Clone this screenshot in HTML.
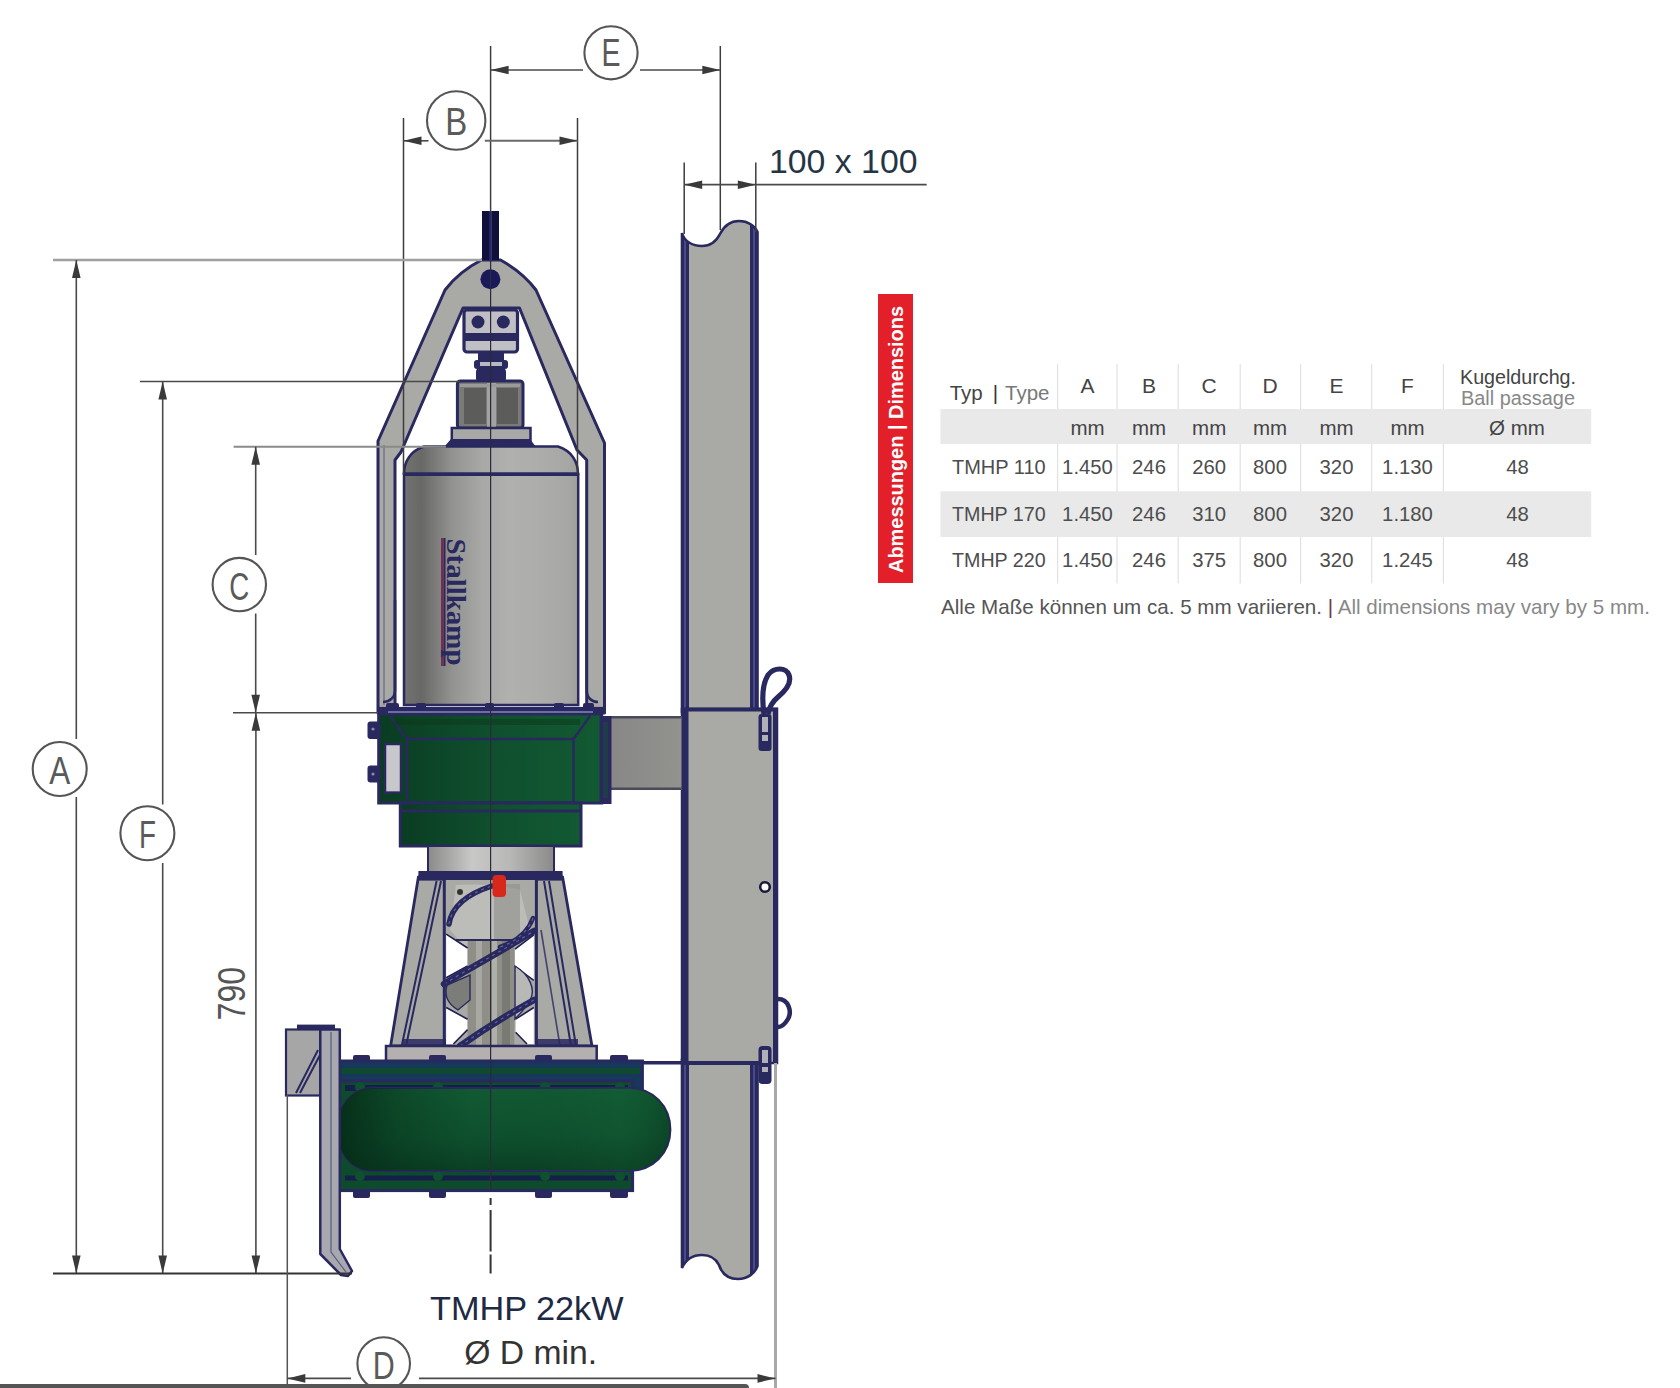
<!DOCTYPE html>
<html><head><meta charset="utf-8"><title>TMHP 22kW Dimensions</title>
<style>
html,body{margin:0;padding:0;background:#fff;width:1680px;height:1388px;overflow:hidden}
svg{display:block;font-family:"Liberation Sans",sans-serif}
</style></head><body>
<svg width="1680" height="1388" viewBox="0 0 1680 1388">
<rect width="1680" height="1388" fill="#fff"/>
<defs>
<linearGradient id="gMotor" x1="0" x2="1" y1="0" y2="0">
 <stop offset="0" stop-color="#727270"/>
 <stop offset="0.1" stop-color="#686866"/>
 <stop offset="0.28" stop-color="#939391"/>
 <stop offset="0.45" stop-color="#a8a8a6"/>
 <stop offset="0.6" stop-color="#b0b0ae"/>
 <stop offset="0.8" stop-color="#acacaa"/>
 <stop offset="0.95" stop-color="#a6a6a4"/>
 <stop offset="1" stop-color="#9e9e9c"/>
</linearGradient>
<linearGradient id="gShaft" x1="0" x2="1" y1="0" y2="0">
 <stop offset="0" stop-color="#8a8a88"/>
 <stop offset="0.35" stop-color="#c8c8c6"/>
 <stop offset="0.65" stop-color="#b8b8b6"/>
 <stop offset="1" stop-color="#8a8a88"/>
</linearGradient>
<linearGradient id="gGreen" x1="0" x2="1" y1="0" y2="0">
 <stop offset="0" stop-color="#0a3c22"/>
 <stop offset="0.5" stop-color="#0f4f2e"/>
 <stop offset="1" stop-color="#125a33"/>
</linearGradient>
<linearGradient id="gTube" x1="0" x2="0" y1="0" y2="1">
 <stop offset="0" stop-color="#115a33"/>
 <stop offset="0.6" stop-color="#0e502e"/>
 <stop offset="1" stop-color="#0a3f24"/>
</linearGradient>
<linearGradient id="gTubeH" x1="0" x2="1" y1="0" y2="0">
 <stop offset="0" stop-color="#052a16" stop-opacity="0.9"/>
 <stop offset="0.18" stop-color="#052a16" stop-opacity="0.35"/>
 <stop offset="0.4" stop-color="#052a16" stop-opacity="0"/>
 <stop offset="0.85" stop-color="#1a6a3a" stop-opacity="0.15"/>
 <stop offset="1" stop-color="#052a16" stop-opacity="0.3"/>
</linearGradient>
<linearGradient id="gArm" x1="0" x2="1" y1="0" y2="0">
 <stop offset="0" stop-color="#868684"/>
 <stop offset="1" stop-color="#92928f"/>
</linearGradient>
</defs>
<clipPath id="cUp"><path d="M682,233 C684,241 692,246 702,246 C712,246 717,240 720,234 C724,226 730,221 739,221 C748,221 755,226 757.5,232 L757.5,712 L682,712 Z"/></clipPath><clipPath id="cLo"><path d="M682,1060 L757.5,1060 L757.5,1266 C755,1273 748,1279 738,1279 C729,1279 722,1274 719,1265 C716,1259 711,1255 702,1255 C693,1255 686,1259 682,1268 Z"/></clipPath>
<path d="M682,233 C684,241 692,246 702,246 C712,246 717,240 720,234 C724,226 730,221 739,221 C748,221 755,226 757.5,232 L757.5,712 L682,712 Z" fill="#a9a9a6"/>
<g clip-path="url(#cUp)"><rect x="680" y="200" width="9" height="1100" fill="#29285f"/><rect x="750" y="200" width="9" height="1100" fill="#29285f"/><rect x="684" y="200" width="2" height="1100" fill="#4a4a88"/><rect x="753" y="200" width="2" height="1100" fill="#4a4a88"/></g>
<path d="M682,233 C684,241 692,246 702,246 C712,246 717,240 720,234 C724,226 730,221 739,221 C748,221 755,226 757.5,232 L757.5,712 L682,712 Z" fill="none" stroke="#29285f" stroke-width="2.6"/>
<path d="M682,1060 L757.5,1060 L757.5,1266 C755,1273 748,1279 738,1279 C729,1279 722,1274 719,1265 C716,1259 711,1255 702,1255 C693,1255 686,1259 682,1268 Z" fill="#a9a9a6"/>
<g clip-path="url(#cLo)"><rect x="680" y="200" width="9" height="1100" fill="#29285f"/><rect x="750" y="200" width="9" height="1100" fill="#29285f"/><rect x="684" y="200" width="2" height="1100" fill="#4a4a88"/><rect x="753" y="200" width="2" height="1100" fill="#4a4a88"/></g>
<path d="M682,1060 L757.5,1060 L757.5,1266 C755,1273 748,1279 738,1279 C729,1279 722,1274 719,1265 C716,1259 711,1255 702,1255 C693,1255 686,1259 682,1268 Z" fill="none" stroke="#29285f" stroke-width="2.6"/>
<rect x="682" y="709" width="95" height="354" fill="#a9a9a6" stroke="#29285f" stroke-width="2.5"/>
<rect x="682" y="709" width="6.5" height="354" fill="#29285f"/>
<rect x="773" y="709" width="5" height="354" fill="#29285f"/>
<rect x="681" y="707.5" width="97" height="4" fill="#29285f"/>
<rect x="681" y="1061" width="80" height="4" fill="#29285f"/>
<rect x="601.5" y="716" width="80" height="74" fill="url(#gArm)"/>
<rect x="601.5" y="716" width="80" height="2.5" fill="#4a4a5a"/>
<rect x="601.5" y="787.5" width="80" height="2.5" fill="#4a4a5a"/>
<rect x="758.5" y="714" width="13" height="37" rx="3" fill="#29285f"/>
<rect x="762" y="717" width="6" height="15" fill="#b0b0b8"/>
<rect x="762" y="735" width="6" height="6" fill="#b0b0b8"/>
<path d="M764,714 C762,700 762,685 768,675 C774,667 786,667 789,675 C792,683 784,692 778,697 C772,702 769,708 768,714" fill="none" stroke="#29285f" stroke-width="5.2"/>
<circle cx="765" cy="887" r="4.8" fill="#fff" stroke="#1a1a3a" stroke-width="2.6"/>
<path d="M778,999 C789,999 792,1012 788,1019 C785,1024 781,1027 778,1027" fill="none" stroke="#29285f" stroke-width="4.5"/>
<rect x="758.5" y="1046" width="13" height="38" rx="4" fill="#29285f"/>
<rect x="762" y="1050" width="6" height="13" fill="#b0b0b8"/>
<rect x="762" y="1067" width="6" height="5" fill="#b0b0b8"/>
<rect x="640" y="1061" width="43" height="3.5" fill="#29285f"/>
<path d="M481.5,260 L500.5,260 C515,268 527,278 536,290 L604.5,443 L604.5,713 L586.7,713 L586.7,460 L577,450 L519.5,308 L463,308 L401,452 L395,460 L395,713 L378,713 L378,441 L445,290 C454,278 466,268 481.5,260 Z" fill="#a9a9a6" stroke="#29285f" stroke-width="3" stroke-linejoin="round"/>
<path d="M384,445 L384,705" stroke="#29285f" stroke-width="1.2" fill="none" opacity="0.5"/>
<path d="M395,600 L395,690 C395,698 389,702 383,702" fill="none" stroke="#29285f" stroke-width="2.5"/>
<path d="M586.7,600 L586.7,690 C586.7,698 592,702 598,702" fill="none" stroke="#29285f" stroke-width="2.5"/>
<rect x="482" y="211" width="17" height="49" fill="#10103a"/>
<rect x="489.5" y="211" width="2.5" height="49" fill="#3535a0"/>
<circle cx="490.4" cy="279.3" r="10" fill="#1a1a5a"/>
<rect x="464" y="310" width="53.5" height="42" rx="3" fill="#c0c0c4" stroke="#29285f" stroke-width="3.2"/>
<rect x="464" y="333" width="53.5" height="8" fill="#29285f"/>
<circle cx="478" cy="322" r="6.5" fill="#29285f"/>
<circle cx="503.3" cy="322" r="6.5" fill="#29285f"/>
<rect x="478" y="352" width="26" height="10" fill="#29285f"/>
<rect x="474" y="360" width="34" height="9" rx="3" fill="#29285f"/>
<rect x="480" y="362" width="22" height="4" fill="#b8b8c0"/>
<rect x="476" y="368" width="30" height="14" rx="4" fill="#29285f"/>
<rect x="457.4" y="381" width="65.6" height="47" rx="3" fill="#7a7a78" stroke="#29285f" stroke-width="3"/>
<rect x="464" y="388" width="22" height="36" fill="#5c5c5a"/>
<rect x="497" y="388" width="21" height="36" fill="#5c5c5a"/>
<rect x="487" y="383" width="9" height="44" fill="#a2a2a0"/>
<rect x="460" y="384" width="60" height="3" fill="#9a9a98"/>
<rect x="451.8" y="428" width="78.7" height="13" fill="#a8a8a6" stroke="#29285f" stroke-width="2.5"/>
<polygon points="444,447 536,447 530,439 451,439" fill="#29285f"/>
<path d="M404,474 C404,462 410,451 424,446.5 L558,446.5 C572,451 578,462 578,474 Z" fill="url(#gMotor)" stroke="#29285f" stroke-width="2.5"/>
<rect x="404" y="474" width="174.2" height="231" fill="url(#gMotor)" stroke="#29285f" stroke-width="2.5"/>
<rect x="403" y="472.5" width="176" height="3.5" fill="#29285f"/>
<rect x="441" y="538" width="2.5" height="128" fill="#7a2a4a"/>
<rect x="443.5" y="538" width="2" height="128" fill="#29285f"/>
<text transform="translate(447,538.5) rotate(90)" font-family="Liberation Serif" font-weight="bold" font-size="28" fill="#29285f" textLength="127" lengthAdjust="spacingAndGlyphs">Stallkamp</text>
<rect x="386" y="703" width="13" height="8" rx="2" fill="#29285f"/>
<rect x="416" y="703" width="10" height="8" rx="2" fill="#29285f"/>
<rect x="485" y="703" width="9" height="8" rx="2" fill="#29285f"/>
<rect x="554" y="703" width="10" height="8" rx="2" fill="#29285f"/>
<rect x="583" y="703" width="11" height="8" rx="2" fill="#29285f"/>
<rect x="378.7" y="708.4" width="223" height="94.6" fill="url(#gGreen)" stroke="#29285f" stroke-width="3"/>
<rect x="378.7" y="708.4" width="223" height="7" fill="#29285f"/>
<rect x="388" y="711" width="205" height="2" fill="#8a8ac0" opacity="0.7"/>
<path d="M390,716 L407,739 L573.5,739 L590,716" fill="none" stroke="#29285f" stroke-width="2.5"/>
<path d="M407,739 L407,803 M573.5,739 L573.5,803" fill="none" stroke="#29285f" stroke-width="2.5"/>
<path d="M395,722 L580,722" stroke="#0d3a1a" stroke-width="6" opacity="0.5"/>
<rect x="367.5" y="721.5" width="13" height="17.5" rx="3" fill="#29285f"/>
<rect x="367.5" y="765.5" width="13" height="17" rx="3" fill="#29285f"/>
<circle cx="373" cy="729" r="1.6" fill="#8888b0"/>
<circle cx="373" cy="774" r="1.6" fill="#8888b0"/>
<rect x="385" y="744" width="16" height="48.6" fill="#c8c8cc" stroke="#29285f" stroke-width="2.5"/>
<rect x="599.5" y="716" width="12" height="88" fill="#29285f"/>
<rect x="603" y="722" width="5" height="76" fill="#1a4a3a" opacity="0.6"/>
<rect x="400.3" y="803" width="180.7" height="43" fill="url(#gGreen)" stroke="#29285f" stroke-width="3"/>
<rect x="400.3" y="809.5" width="180.7" height="3" fill="#29285f"/>
<rect x="428" y="846" width="126" height="26" fill="url(#gShaft)" stroke="#29285f" stroke-width="2"/>
<polygon points="418.4,877 562.6,877 592,1046 390.6,1046" fill="#a9a9a6" stroke="#29285f" stroke-width="2.8" stroke-linejoin="round"/>
<rect x="418.4" y="871" width="144.2" height="9.6" fill="#29285f"/>
<rect x="444.5" y="880" width="92" height="166" fill="#a9a9a5"/>
<path d="M456,885 C470,884 500,884 520,890 L530,930 L514,949 L467,949 L450,930 Z" fill="#bcbcb8"/>
<rect x="494" y="884" width="26" height="60" fill="#8e8e88" opacity="0.6"/>
<polygon points="446.2,934.2 467.6,948 467.6,966 446.2,977.7" fill="#fff"/>
<polygon points="446.2,1007.5 467.6,1019.2 467.6,1029.6 453.4,1044 446.2,1044" fill="#fff"/>
<polygon points="533.8,934.9 515,949.1 515,966.7 533.8,980.3" fill="#fff"/>
<polygon points="533.8,1007.5 515.6,1019.2 515.6,1032.2 527,1044 533.8,1044" fill="#fff"/>
<rect x="467.6" y="940" width="46.7" height="106" fill="#8f8f88"/>
<rect x="476" y="940" width="6" height="106" fill="#a8a8a2"/>
<rect x="492" y="940" width="5" height="106" fill="#b0b0aa"/>
<rect x="502" y="940" width="8" height="106" fill="#7a7a74"/>
<path d="M456,940 L514,940" stroke="#29285f" stroke-width="2.2"/>
<path d="M446.2,934.2 L467.6,948 M533.8,934.9 L515,949.1 M446.2,1007.5 L467.6,1019.2 M533.8,1007.5 L515.6,1019.2 M467.6,1029.6 L453.4,1044 M515.6,1032.2 L527,1044 M446.2,977.7 L467.6,966 M533.8,980.3 L515,966.7" stroke="#1e1e50" stroke-width="1.6" fill="none"/>
<path d="M447,985 C444,995 448,1004 458,1010 L470,1000 L470,975 Z" fill="#7c7c78" stroke="#29285f" stroke-width="1.4"/>
<path d="M515,966 C530,975 536,990 530,1000 C526,1008 520,1014 515,1019 Z" fill="#b8b8b4" stroke="#29285f" stroke-width="1.4"/>
<path d="M444,984 C470,968 500,952 534,931" stroke="#29285f" stroke-width="6.5" fill="none" stroke-linecap="round"/>
<path d="M444,984 C470,968 500,952 534,931" stroke="#7070b0" stroke-width="1.2" fill="none" stroke-dasharray="3 4" opacity="0.8"/>
<path d="M460,1046 C480,1032 505,1016 534,1000" stroke="#29285f" stroke-width="6.5" fill="none" stroke-linecap="round"/>
<path d="M460,1046 C480,1032 505,1016 534,1000" stroke="#7070b0" stroke-width="1.2" fill="none" stroke-dasharray="3 4" opacity="0.8"/>
<path d="M449,924 C452,905 470,893 492,886" stroke="#29285f" stroke-width="5.5" fill="none" stroke-linecap="round"/>
<path d="M449,924 C452,905 470,893 492,886" stroke="#7070b0" stroke-width="1.2" fill="none" stroke-dasharray="3 4" opacity="0.8"/>
<path d="M533,918 C528,932 515,942 500,947" stroke="#29285f" stroke-width="4.5" fill="none" stroke-linecap="round"/>
<path d="M533,918 C528,932 515,942 500,947" stroke="#7070b0" stroke-width="1.2" fill="none" stroke-dasharray="3 4" opacity="0.8"/>
<circle cx="460" cy="892" r="3" fill="#333"/>
<path d="M436.6,881 L401.7,1046 M441,881 L406,1046" stroke="#29285f" stroke-width="2" fill="none"/>
<path d="M444.3,880 L444.3,1046 M536.4,880 L536.4,1046" stroke="#29285f" stroke-width="3" fill="none"/>
<path d="M549,881 L576,1046 M544,881 L571,1046" stroke="#29285f" stroke-width="2" fill="none"/>
<path d="M541,930 L560,1046" stroke="#29285f" stroke-width="1.6" fill="none" opacity="0.8"/>
<rect x="492.5" y="875" width="13.5" height="22" rx="4" fill="#d8281c"/>
<rect x="403" y="1039" width="15" height="7" fill="#29285f" opacity="0.85"/>
<rect x="418" y="1039" width="28" height="7" fill="#29285f" opacity="0.85"/>
<rect x="535" y="1039" width="27" height="7" fill="#29285f" opacity="0.85"/>
<rect x="562" y="1039" width="16" height="7" fill="#29285f" opacity="0.85"/>
<rect x="386" y="1046" width="210.7" height="15.3" fill="#b4b0b0" stroke="#29285f" stroke-width="2.5"/>
<rect x="331" y="1061" width="311.4" height="30" fill="#16385a" stroke="#29285f" stroke-width="3"/>
<rect x="333" y="1068" width="307" height="6" fill="#0f4a30"/>
<rect x="331" y="1081" width="301.6" height="109.6" fill="#0e4a2c" stroke="#29285f" stroke-width="3"/>
<path d="M345,1088 L628,1088" stroke="#14204a" stroke-width="6"/>
<path d="M345,1178 L628,1178" stroke="#14204a" stroke-width="5"/>
<circle cx="360" cy="1087" r="5" fill="#0f5030"/>
<circle cx="360" cy="1176" r="5" fill="#0f5030"/>
<circle cx="438" cy="1087" r="5" fill="#0f5030"/>
<circle cx="438" cy="1176" r="5" fill="#0f5030"/>
<circle cx="545" cy="1087" r="5" fill="#0f5030"/>
<circle cx="545" cy="1176" r="5" fill="#0f5030"/>
<circle cx="620" cy="1087" r="5" fill="#0f5030"/>
<circle cx="620" cy="1176" r="5" fill="#0f5030"/>
<path d="M372,1088 L629,1088 C653,1088 670.4,1106 670.4,1129.5 C670.4,1153 653,1171 629,1171 L372,1171 C352,1171 337,1153 337,1129.5 C337,1106 352,1088 372,1088 Z" fill="url(#gTube)" stroke="#29285f" stroke-width="2"/>
<path d="M372,1088 L629,1088 C653,1088 670.4,1106 670.4,1129.5 C670.4,1153 653,1171 629,1171 L372,1171 C352,1171 337,1153 337,1129.5 C337,1106 352,1088 372,1088 Z" fill="url(#gTubeH)"/>
<rect x="353" y="1055" width="17" height="7" rx="2" fill="#29285f"/>
<rect x="353" y="1189" width="17" height="9" rx="2" fill="#29285f"/>
<rect x="429" y="1055" width="17" height="7" rx="2" fill="#29285f"/>
<rect x="429" y="1189" width="17" height="9" rx="2" fill="#29285f"/>
<rect x="535" y="1055" width="17" height="7" rx="2" fill="#29285f"/>
<rect x="535" y="1189" width="17" height="9" rx="2" fill="#29285f"/>
<rect x="610" y="1055" width="18" height="7" rx="2" fill="#29285f"/>
<rect x="610" y="1189" width="18" height="9" rx="2" fill="#29285f"/>
<rect x="286" y="1029.5" width="34.3" height="66" fill="#a6a6a6" stroke="#29285f" stroke-width="2.2"/>
<path d="M320,1055 L300,1093 M318,1050 L296,1093" stroke="#29285f" stroke-width="2" fill="none"/>
<rect x="297" y="1024.6" width="38" height="5" fill="#29285f"/>
<polygon points="320.3,1029.5 339.8,1029.5 339.8,1249 352,1271 348,1276 341,1275 320.3,1254" fill="#a8a8b0" stroke="#29285f" stroke-width="2.5" stroke-linejoin="round"/>
<path d="M331,1032 L331,1252 L346,1272" stroke="#29285f" stroke-width="1.2" fill="none" opacity="0.6"/>
<line x1="490.6" y1="212" x2="490.6" y2="1190" stroke="#2a2a3a" stroke-width="1.2" />
<path d="M490.6,1198 L490.6,1205 M490.6,1210 L490.6,1251.6 M490.6,1254.5 L490.6,1273.5" stroke="#333" stroke-width="2"/>
<line x1="490.6" y1="46" x2="490.6" y2="212" stroke="#3d3d3d" stroke-width="1.5" />
<line x1="720.3" y1="46" x2="720.3" y2="230" stroke="#3d3d3d" stroke-width="1.5" />
<line x1="490.6" y1="70" x2="583" y2="70" stroke="#4a4a4a" stroke-width="1.6" />
<line x1="640" y1="70" x2="720.3" y2="70" stroke="#4a4a4a" stroke-width="1.6" />
<polygon points="490.6,70 508.6,65.7 508.6,74.3" fill="#3a3a3a"/>
<polygon points="720.3,70 702.3,65.7 702.3,74.3" fill="#3a3a3a"/>
<circle cx="611" cy="52.8" r="26.6" fill="none" stroke="#555" stroke-width="2.1"/><text x="611" y="65.8" font-size="39" text-anchor="middle" fill="#5a5a5a" textLength="19" lengthAdjust="spacingAndGlyphs">E</text>
<line x1="403.5" y1="118" x2="403.5" y2="474" stroke="#3d3d3d" stroke-width="1.5" />
<line x1="577.5" y1="118" x2="577.5" y2="474" stroke="#3d3d3d" stroke-width="1.5" />
<line x1="403.5" y1="140.8" x2="428.5" y2="140.8" stroke="#4a4a4a" stroke-width="1.6" />
<line x1="484.8" y1="140.8" x2="577.5" y2="140.8" stroke="#6a6a6a" stroke-width="2" />
<polygon points="403.5,140.8 421.5,136.5 421.5,145.10000000000002" fill="#3a3a3a"/>
<polygon points="577.5,140.8 559.5,136.5 559.5,145.10000000000002" fill="#3a3a3a"/>
<circle cx="456.2" cy="120.5" r="29.2" fill="none" stroke="#555" stroke-width="2.1"/><text x="456.2" y="134.5" font-size="39" text-anchor="middle" fill="#5a5a5a" textLength="22" lengthAdjust="spacingAndGlyphs">B</text>
<line x1="684.2" y1="162.5" x2="684.2" y2="234" stroke="#3d3d3d" stroke-width="1.5" />
<line x1="755.8" y1="162.5" x2="755.8" y2="232" stroke="#3d3d3d" stroke-width="1.5" />
<line x1="684.2" y1="184.7" x2="926.7" y2="184.7" stroke="#4a4a4a" stroke-width="1.8" />
<polygon points="684.2,184.7 702.2,180.39999999999998 702.2,189.0" fill="#3a3a3a"/>
<polygon points="755.8,184.7 737.8,180.39999999999998 737.8,189.0" fill="#3a3a3a"/>
<text x="769" y="172.5" font-size="34" fill="#253545" textLength="148.5" lengthAdjust="spacingAndGlyphs">100 x 100</text>
<line x1="53" y1="260" x2="482" y2="260" stroke="#a0a0a0" stroke-width="2.6" />
<line x1="76.3" y1="260" x2="76.3" y2="739" stroke="#4a4a4a" stroke-width="1.6" />
<line x1="76.3" y1="797" x2="76.3" y2="1273.5" stroke="#4a4a4a" stroke-width="1.6" />
<polygon points="76.3,260 72.0,278 80.6,278" fill="#3a3a3a"/>
<polygon points="76.3,1273.5 72.0,1255.5 80.6,1255.5" fill="#3a3a3a"/>
<circle cx="59.7" cy="769" r="27" fill="none" stroke="#555" stroke-width="2.1"/><text x="59.7" y="784" font-size="39" text-anchor="middle" fill="#5a5a5a" textLength="21" lengthAdjust="spacingAndGlyphs">A</text>
<line x1="140" y1="381.5" x2="460" y2="381.5" stroke="#4a4a4a" stroke-width="1.6" />
<line x1="162.7" y1="381.5" x2="162.7" y2="804.6" stroke="#4a4a4a" stroke-width="1.6" />
<line x1="162.7" y1="862.9" x2="162.7" y2="1273.5" stroke="#4a4a4a" stroke-width="1.6" />
<polygon points="162.7,381.5 158.39999999999998,399.5 167.0,399.5" fill="#3a3a3a"/>
<polygon points="162.7,1273.5 158.39999999999998,1255.5 167.0,1255.5" fill="#3a3a3a"/>
<circle cx="147.4" cy="833.2" r="27" fill="none" stroke="#555" stroke-width="2.1"/><text x="147.4" y="848.2" font-size="39" text-anchor="middle" fill="#5a5a5a" textLength="17" lengthAdjust="spacingAndGlyphs">F</text>
<line x1="233.6" y1="446.7" x2="446" y2="446.7" stroke="#8a8a8a" stroke-width="2" />
<line x1="255.7" y1="446.7" x2="255.7" y2="555" stroke="#4a4a4a" stroke-width="1.6" />
<line x1="255.7" y1="613.5" x2="255.7" y2="712.7" stroke="#4a4a4a" stroke-width="1.6" />
<polygon points="255.7,446.7 251.39999999999998,464.7 260.0,464.7" fill="#3a3a3a"/>
<polygon points="255.7,712.7 251.39999999999998,694.7 260.0,694.7" fill="#3a3a3a"/>
<circle cx="239.3" cy="584.6" r="26.7" fill="none" stroke="#555" stroke-width="2.1"/><text x="239.3" y="599.6" font-size="39" text-anchor="middle" fill="#5a5a5a" textLength="20" lengthAdjust="spacingAndGlyphs">C</text>
<line x1="233" y1="712.7" x2="378" y2="712.7" stroke="#4a4a4a" stroke-width="1.6" />
<line x1="255.9" y1="712.7" x2="255.9" y2="1273.5" stroke="#4a4a4a" stroke-width="1.6" />
<polygon points="255.9,712.7 251.6,730.7 260.2,730.7" fill="#3a3a3a"/>
<polygon points="255.9,1273.5 251.6,1255.5 260.2,1255.5" fill="#3a3a3a"/>
<text transform="translate(245.2,1020.4) rotate(-90)" x="0" y="0" font-size="38.5" fill="#555" textLength="53.6" lengthAdjust="spacingAndGlyphs">790</text>
<line x1="53" y1="1273.5" x2="352" y2="1273.5" stroke="#333" stroke-width="1.8" />
<line x1="287.3" y1="1095" x2="287.3" y2="1388" stroke="#555" stroke-width="1.5" />
<line x1="775.5" y1="1063" x2="775.5" y2="1388" stroke="#a8a8a8" stroke-width="3" />
<line x1="287.3" y1="1378.4" x2="351" y2="1378.4" stroke="#4a4a4a" stroke-width="1.6" />
<line x1="419" y1="1378.4" x2="775.5" y2="1378.4" stroke="#4a4a4a" stroke-width="1.6" />
<polygon points="287.3,1378.4 305.3,1374.1000000000001 305.3,1382.7" fill="#3a3a3a"/>
<polygon points="775.5,1378.4 757.5,1374.1000000000001 757.5,1382.7" fill="#3a3a3a"/>
<circle cx="383.7" cy="1363.6" r="26.3" fill="none" stroke="#555" stroke-width="2.1"/><text x="383.7" y="1378.6" font-size="39" text-anchor="middle" fill="#5a5a5a" textLength="22" lengthAdjust="spacingAndGlyphs">D</text>
<text x="430" y="1320.2" font-size="33.6" fill="#1e2a45" textLength="193.6" lengthAdjust="spacingAndGlyphs">TMHP 22kW</text>
<text x="464.2" y="1363.6" font-size="33.6" fill="#333" textLength="133" lengthAdjust="spacingAndGlyphs">Ø D min.</text>
<rect x="-10" y="1384" width="759" height="8" rx="4" fill="#555"/>
<rect x="878" y="294" width="35" height="289" fill="#e3202a"/>
<text transform="translate(902.5,573) rotate(-90)" font-size="19.5" font-weight="bold" fill="#fff" textLength="267" lengthAdjust="spacingAndGlyphs">Abmessungen | Dimensions</text>
<rect x="1057.0" y="364" width="1.2" height="219.5" fill="#e2e2e2"/>
<rect x="1116.4" y="364" width="1.2" height="219.5" fill="#e2e2e2"/>
<rect x="1177.6000000000001" y="364" width="1.2" height="219.5" fill="#e2e2e2"/>
<rect x="1239.6000000000001" y="364" width="1.2" height="219.5" fill="#e2e2e2"/>
<rect x="1300.0" y="364" width="1.2" height="219.5" fill="#e2e2e2"/>
<rect x="1371.1000000000001" y="364" width="1.2" height="219.5" fill="#e2e2e2"/>
<rect x="1442.8000000000002" y="364" width="1.2" height="219.5" fill="#e2e2e2"/>
<rect x="940.4" y="409" width="650.8" height="35" fill="#e9e9e9"/>
<rect x="940.4" y="491.3" width="650.8" height="45.7" fill="#e9e9e9"/>
<text x="949.7" y="400.3" font-size="20.5" fill="#444"><tspan>Typ</tspan><tspan fill="#333" dx="10">|</tspan><tspan fill="#777" dx="7">Type</tspan></text>
<text x="1087.5" y="393.2" font-size="21" fill="#444" text-anchor="middle" >A</text>
<text x="1149" y="393.2" font-size="21" fill="#444" text-anchor="middle" >B</text>
<text x="1209.2" y="393.2" font-size="21" fill="#444" text-anchor="middle" >C</text>
<text x="1270" y="393.2" font-size="21" fill="#444" text-anchor="middle" >D</text>
<text x="1336.5" y="393.2" font-size="21" fill="#444" text-anchor="middle" >E</text>
<text x="1407.5" y="393.2" font-size="21" fill="#444" text-anchor="middle" >F</text>
<text x="1518" y="383.8" font-size="20" fill="#444" text-anchor="middle" textLength="116" lengthAdjust="spacingAndGlyphs" >Kugeldurchg.</text>
<text x="1518" y="405" font-size="20" fill="#888" text-anchor="middle" textLength="114" lengthAdjust="spacingAndGlyphs" >Ball passage</text>
<text x="1087.5" y="434.5" font-size="20.5" fill="#444" text-anchor="middle" >mm</text>
<text x="1149" y="434.5" font-size="20.5" fill="#444" text-anchor="middle" >mm</text>
<text x="1209.2" y="434.5" font-size="20.5" fill="#444" text-anchor="middle" >mm</text>
<text x="1270" y="434.5" font-size="20.5" fill="#444" text-anchor="middle" >mm</text>
<text x="1336.5" y="434.5" font-size="20.5" fill="#444" text-anchor="middle" >mm</text>
<text x="1407.5" y="434.5" font-size="20.5" fill="#444" text-anchor="middle" >mm</text>
<text x="1517" y="434.5" font-size="20.5" fill="#444" text-anchor="middle" >Ø mm</text>
<text x="952" y="474.2" font-size="20.3" fill="#4d4d4d" text-anchor="start" textLength="93.7" lengthAdjust="spacingAndGlyphs" >TMHP 110</text>
<text x="1087.5" y="474.2" font-size="20.3" fill="#4d4d4d" text-anchor="middle" >1.450</text>
<text x="1149" y="474.2" font-size="20.3" fill="#4d4d4d" text-anchor="middle" >246</text>
<text x="1209.2" y="474.2" font-size="20.3" fill="#4d4d4d" text-anchor="middle" >260</text>
<text x="1270" y="474.2" font-size="20.3" fill="#4d4d4d" text-anchor="middle" >800</text>
<text x="1336.5" y="474.2" font-size="20.3" fill="#4d4d4d" text-anchor="middle" >320</text>
<text x="1407.5" y="474.2" font-size="20.3" fill="#4d4d4d" text-anchor="middle" >1.130</text>
<text x="1517.5" y="474.2" font-size="20.3" fill="#4d4d4d" text-anchor="middle" >48</text>
<text x="952" y="520.8" font-size="20.3" fill="#4d4d4d" text-anchor="start" textLength="93.7" lengthAdjust="spacingAndGlyphs" >TMHP 170</text>
<text x="1087.5" y="520.8" font-size="20.3" fill="#4d4d4d" text-anchor="middle" >1.450</text>
<text x="1149" y="520.8" font-size="20.3" fill="#4d4d4d" text-anchor="middle" >246</text>
<text x="1209.2" y="520.8" font-size="20.3" fill="#4d4d4d" text-anchor="middle" >310</text>
<text x="1270" y="520.8" font-size="20.3" fill="#4d4d4d" text-anchor="middle" >800</text>
<text x="1336.5" y="520.8" font-size="20.3" fill="#4d4d4d" text-anchor="middle" >320</text>
<text x="1407.5" y="520.8" font-size="20.3" fill="#4d4d4d" text-anchor="middle" >1.180</text>
<text x="1517.5" y="520.8" font-size="20.3" fill="#4d4d4d" text-anchor="middle" >48</text>
<text x="952" y="566.6" font-size="20.3" fill="#4d4d4d" text-anchor="start" textLength="93.7" lengthAdjust="spacingAndGlyphs" >TMHP 220</text>
<text x="1087.5" y="566.6" font-size="20.3" fill="#4d4d4d" text-anchor="middle" >1.450</text>
<text x="1149" y="566.6" font-size="20.3" fill="#4d4d4d" text-anchor="middle" >246</text>
<text x="1209.2" y="566.6" font-size="20.3" fill="#4d4d4d" text-anchor="middle" >375</text>
<text x="1270" y="566.6" font-size="20.3" fill="#4d4d4d" text-anchor="middle" >800</text>
<text x="1336.5" y="566.6" font-size="20.3" fill="#4d4d4d" text-anchor="middle" >320</text>
<text x="1407.5" y="566.6" font-size="20.3" fill="#4d4d4d" text-anchor="middle" >1.245</text>
<text x="1517.5" y="566.6" font-size="20.3" fill="#4d4d4d" text-anchor="middle" >48</text>
<text x="941" y="613.6" font-size="20.6" textLength="709" lengthAdjust="spacingAndGlyphs"><tspan fill="#555">Alle Maße können um ca. 5 mm variieren.</tspan><tspan fill="#6a3a4a"> | </tspan><tspan fill="#888">All dimensions may vary by 5 mm.</tspan></text>
</svg>
</body></html>
